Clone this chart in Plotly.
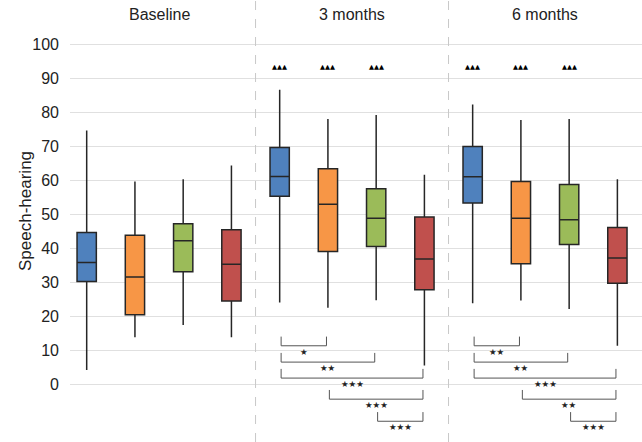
import plotly.graph_objects as go

# timepoints and arms
groups = ["Baseline", "3 months", "6 months"]
colors = ["#4F81BD", "#F79646", "#9BBB59", "#C0504D"]

# box statistics per timepoint, one value per arm (blue, orange, green, red)
lower = [[4.4, 14.0, 17.6, 14.0], [24.2, 22.7, 24.9, 5.7], [24.0, 24.8, 22.3, 11.5]]
q1 = [[30.4, 20.6, 33.3, 24.7], [55.5, 39.2, 40.7, 28.0], [53.5, 35.6, 41.3, 29.9]]
median = [[36.0, 31.7, 42.4, 35.5], [61.3, 53.1, 49.0, 37.0], [61.2, 49.0, 48.6, 37.3]]
q3 = [[44.8, 44.0, 47.4, 45.6], [69.8, 63.6, 57.7, 49.4], [70.1, 59.8, 58.9, 46.3]]
upper = [[74.8, 59.8, 60.5, 64.5], [86.8, 78.2, 79.4, 61.8], [82.5, 77.9, 78.2, 60.5]]

# triangles (vs baseline) shown above the boxes
tri_marks = [["", "", "", ""], ["▲▲▲", "▲▲▲", "▲▲▲", ""], ["▲▲▲", "▲▲▲", "▲▲▲", ""]]
tri_y = 93.6

# pairwise comparisons between arms: (arm a, arm b), bracket level, stars
pairs = [(0, 1), (0, 2), (0, 3), (1, 3), (2, 3)]
bracket_y = [11.5, 6.7, 2.0, -4.2, -10.7]
stars = [[], [1, 2, 3, 3, 3], [2, 2, 3, 2, 3]]

fig = go.Figure()

font = "Liberation Sans, Arial, sans-serif"
annos = []

for g in range(3):
    for a in range(4):
        pos = g * 4 + a
        fig.add_trace(go.Box(
            x=[pos], q1=[q1[g][a]], median=[median[g][a]], q3=[q3[g][a]],
            lowerfence=[lower[g][a]], upperfence=[upper[g][a]],
            width=0.4, fillcolor=colors[a],
            line=dict(color="#262626", width=1.5),
            whiskerwidth=0, showlegend=False, hoverinfo="skip"))
        if tri_marks[g][a]:
            annos.append(dict(x=pos, y=tri_y, text=tri_marks[g][a], showarrow=False,
                              font=dict(size=6.5, color="#000", family="DejaVu Sans")))
    annos.append(dict(x=g * 4 + 1.5, y=108.8, text=groups[g], showarrow=False,
                      font=dict(size=16, color="#222", family=font)))
    # significance brackets
    for k, n in enumerate(stars[g]):
        a, b = pairs[k]
        x0, x1 = g * 4 + a + 0.03, g * 4 + b - 0.03
        yb = bracket_y[k]
        fig.add_trace(go.Scatter(
            x=[x0, x0, x1, x1], y=[yb + 2.7, yb, yb, yb + 2.7], mode="lines",
            line=dict(color="#555", width=1), showlegend=False, hoverinfo="skip"))
        annos.append(dict(x=(x0 + x1) / 2, y=yb, yanchor="middle", yshift=-6,
                          text="★" * n, showarrow=False,
                          font=dict(size=8.5, color="#222", family="DejaVu Sans")))

annos.append(dict(xref="paper", yref="y", x=0, y=51, xshift=-56, text="Speech-hearing",
                  textangle=-90, showarrow=False, font=dict(size=17, color="#222", family=font)))

shapes = []
for sep in [3.5, 7.5]:
    shapes.append(dict(type="line", xref="x", yref="paper", x0=sep, x1=sep, y0=0, y1=1,
                       line=dict(color="#c8c8c8", width=1, dash="dash")))

fig.update_layout(
    width=642, height=442,
    margin=dict(l=70, r=0, t=0, b=0),
    plot_bgcolor="white", paper_bgcolor="white",
    boxmode="overlay",
    annotations=annos, shapes=shapes,
    font=dict(family=font, color="#222"),
)
fig.update_xaxes(range=[-0.346, 11.51], showticklabels=False, showgrid=False,
                 zeroline=False, showline=False)
fig.update_yaxes(range=[-16.8, 113.2], tickvals=list(range(0, 101, 10)),
                 showgrid=True, gridcolor="#e0e0e0", gridwidth=1, zeroline=False,
                 showline=False, ticks="", ticklabelstandoff=10,
                 tickfont=dict(size=16, color="#222", family=font))

fig.write_html("out.html", config={"displayModeBar": False},
               post_script="document.body.style.margin='0';")
